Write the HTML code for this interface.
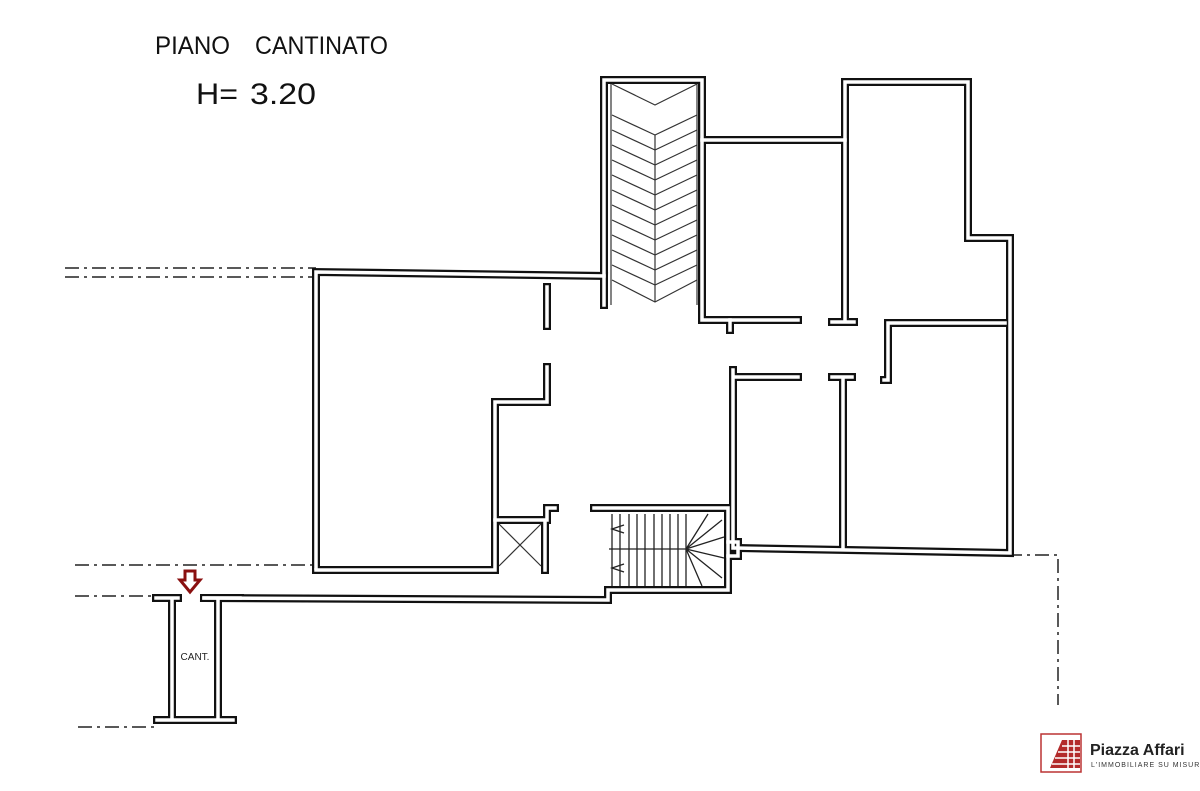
<!DOCTYPE html>
<html><head><meta charset="utf-8"><style>
html,body{margin:0;padding:0;background:#fff;}
svg{display:block;}
</style></head><body>
<svg width="1200" height="791" viewBox="0 0 1200 791" xmlns="http://www.w3.org/2000/svg" font-family="Liberation Sans, sans-serif">
<rect width="1200" height="791" fill="#fff"/>
<text x="155" y="54" font-size="25" fill="#111" textLength="75" lengthAdjust="spacingAndGlyphs">PIANO</text>
<text x="255" y="54" font-size="25" fill="#111" textLength="133" lengthAdjust="spacingAndGlyphs">CANTINATO</text>
<text x="196" y="104" font-size="30" fill="#111" textLength="42" lengthAdjust="spacingAndGlyphs">H=</text>
<text x="250" y="104" font-size="30" fill="#111" textLength="66" lengthAdjust="spacingAndGlyphs">3.20</text>

<!-- dashed lines -->
<g stroke="#222" stroke-width="1.5" fill="none" stroke-dasharray="14,5,3,5">
<path d="M65 268 H316"/><path d="M65 277 H316"/>
<path d="M75 565 H316"/><path d="M75 596 H160"/>
<path d="M78 727 H155"/>
<path d="M1008 555 H1058 V705"/>
</g>

<!-- walls: black thick then white inner -->
<g fill="none" stroke-linejoin="miter" stroke-linecap="square">
<g id="w" >
<path d="M316 568 V272 L604 276"/>
<path d="M604 80 V305 M604 80 H702 M702 80 V320 H798"/>
<path d="M730 320 V330"/>
<path d="M702 140 H845 V82 H968 V238 H1010 V553 L736 548"/>
<path d="M845 140 V320 M832 322 H854"/>
<path d="M888 323 H1005 M888 323 V380 H882"/>
<path d="M798 377 H733 V548 M733 377 V370"/>
<path d="M832 377 H852 M843 377 V548"/>
<path d="M547 285 V328 M547 365 V402 H495 V570 H316"/>
<path d="M495 520 H545 V570 H495 M547 520 V508 H557"/>
<path d="M592 508 H728 V548 M728 548 V590 H608"/>
<path d="M606 520 V600 L200 598 M180 598 H155"/>
<path d="M200 598 H242"/>
<path d="M172 600 V720 M218 600 V720 M155 720 H235"/>
</g>
</g>
<g fill="none" stroke="#111" stroke-width="8" stroke-linecap="square">
<path d="M316 568 V272 L604 276"/>
<path d="M604 80 V305 M604 80 H702 M702 80 V320 H798"/>
<path d="M730 320 V330"/>
<path d="M702 140 H845 V82 H968 V238 H1010 V553 L736 548"/>
<path d="M845 140 V320 M832 322 H854"/>
<path d="M888 323 H1005 M888 323 V380 H884"/>
<path d="M798 377 H733 V548 M733 377 V370"/>
<path d="M832 377 H852 M843 377 V548"/>
<path d="M547 287 V326 M547 367 V402 H495 V570 H316"/>
<path d="M495 520 H545 V570 M547 520 V508 H555"/>
<path d="M594 508 H728 V590 H608 V600 L204 598 M178 598 H156"/>
<path d="M204 598 H240"/>
<path d="M172 600 V720 M218 600 V720 M157 720 H233"/>
<path d="M728 542 H738 V556 H728"/>
</g>
<g fill="none" stroke="#fff" stroke-width="3.5" stroke-linecap="square">
<path d="M316 568 V272 L604 276"/>
<path d="M604 80 V305 M604 80 H702 M702 80 V320 H798"/>
<path d="M730 320 V330"/>
<path d="M702 140 H845 V82 H968 V238 H1010 V553 L736 548"/>
<path d="M845 140 V320 M832 322 H854"/>
<path d="M888 323 H1005 M888 323 V380 H884"/>
<path d="M798 377 H733 V548 M733 377 V370"/>
<path d="M832 377 H852 M843 377 V548"/>
<path d="M547 287 V326 M547 367 V402 H495 V570 H316"/>
<path d="M495 520 H545 V570 M547 520 V508 H555"/>
<path d="M594 508 H728 V590 H608 V600 L204 598 M178 598 H156"/>
<path d="M204 598 H240"/>
<path d="M172 600 V720 M218 600 V720 M157 720 H233"/>
<path d="M728 542 H738 V556 H728"/>
</g>

<!-- shaft chevrons -->
<g stroke="#333" stroke-width="1.2" fill="none">
<path d="M612 84 L655 105 L697 84"/>
<path d="M612 115 L655 135 L697 115"/>
<path d="M612 130 L655 150 L697 130"/>
<path d="M612 145 L655 165 L697 145"/>
<path d="M612 160 L655 180 L697 160"/>
<path d="M612 175 L655 195 L697 175"/>
<path d="M612 190 L655 210 L697 190"/>
<path d="M612 205 L655 225 L697 205"/>
<path d="M612 220 L655 240 L697 220"/>
<path d="M612 235 L655 255 L697 235"/>
<path d="M612 250 L655 270 L697 250"/>
<path d="M612 265 L655 285 L697 265"/>
<path d="M612 280 L655 302 L697 280"/>
<path d="M655 135 V302"/>
<path d="M611 84 V305 M697 84 V305"/>
</g>
<!-- lift X -->
<path d="M499 524 L541 566 M541 524 L499 566" stroke="#333" stroke-width="1.2"/>
<!-- lower stair -->
<g stroke="#222" stroke-width="1.3" fill="none">
<path d="M609 549 H686"/>
<path d="M612 514 V586"/>
<path d="M620 514 V586 M629 514 V586 M637 514 V586 M645 514 V586 M654 514 V586 M662 514 V586 M670 514 V586 M678 514 V586 M686 514 V586"/>
<path d="M686 549 L708 514 M686 549 L722 520 M686 549 L724 537 M686 549 L724 558 M686 549 L722 578 M686 549 L702 586"/>
<path d="M624 525 L612 529 L624 533 M624 564 L612 568 L624 572"/>
</g>
<!-- red arrow -->
<path d="M185 571 H195 V580 H200 L190 592 L180 580 H185 Z" fill="#fff" stroke="#8a1010" stroke-width="3"/>
<text x="195" y="660" font-size="10" text-anchor="middle" fill="#222">CANT.</text>

<!-- logo -->
<rect x="1041" y="734" width="40" height="38" fill="none" stroke="#b33" stroke-width="1.5"/>
<path d="M1050 768 L1062 740 L1080 740 L1080 768 Z" fill="#b32a2a"/>
<path d="M1062 746 H1080 M1058 752 H1080 M1055 758 H1080 M1052 764 H1080 M1068 740 V768 M1074 740 V768" stroke="#fff" stroke-width="1.5"/>
<text x="1090" y="755" font-size="16" font-weight="bold" fill="#222">Piazza Affari</text>
<text x="1091" y="767" font-size="7" fill="#333" letter-spacing="1">L'IMMOBILIARE SU MISURA</text>
</svg>
</body></html>
